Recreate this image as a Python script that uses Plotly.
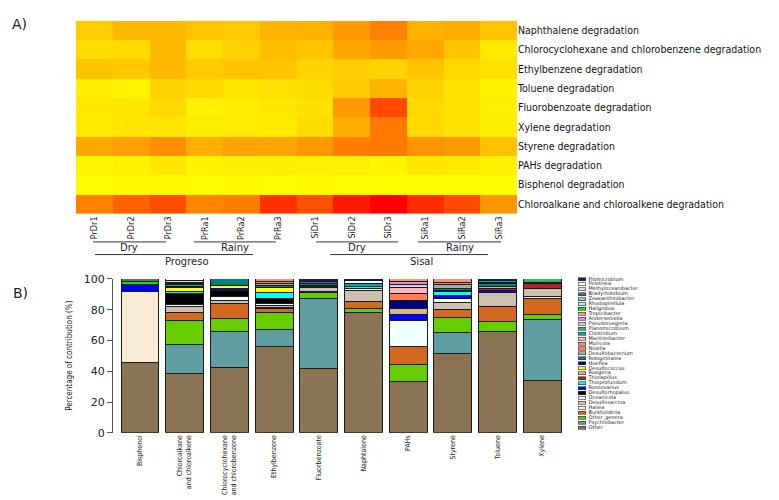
import plotly.graph_objects as go

W, H = 779, 500
def PX(p): return p / W
def PY(p): return 1 - p / H

# ---------------- Heatmap data (A) ----------------
samples = ["PrDr1", "PrDr2", "PrDr3", "PrRa1", "PrRa2", "PrRa3",
           "SiDr1", "SiDr2", "SiDr3", "SiRa1", "SiRa2", "SiRa3"]
pathways = ["Naphthalene degradation",
            "Chlorocyclohexane and chlorobenzene degradation",
            "Ethylbenzene degradation",
            "Toluene degradation",
            "Fluorobenzoate degradation",
            "Xylene degradation",
            "Styrene degradation",
            "PAHs degradation",
            "Bisphenol degradation",
            "Chloroalkane and chloroalkene degradation"]
# relative intensity (0 = yellow, 255 = red)
naphthalene   = [50, 70, 70, 60, 55, 75, 77, 100, 127, 77, 83, 60]
chlorocyclo   = [35, 37, 70, 33, 47, 67, 59, 90, 100, 87, 59, 22]
ethylbenzene  = [60, 56, 70, 52, 60, 60, 45, 50, 44, 60, 39, 30]
toluene       = [17, 10, 45, 37, 27, 31, 35, 53, 75, 45, 31, 12]
fluorobenz    = [23, 26, 39, 14, 19, 24, 31, 102, 181, 39, 29, 15]
xylene        = [20, 25, 25, 18, 19, 21, 35, 82, 135, 38, 28, 17]
styrene       = [87, 95, 114, 79, 92, 90, 103, 129, 133, 108, 101, 63]
pahs          = [10, 13, 23, 11, 17, 17, 16, 15, 10, 23, 20, 13]
bisphenol     = [3, 5, 5, 3, 5, 3, 5, 3, 0, 2, 2, 2]
chloroalkane  = [127, 159, 178, 122, 130, 205, 175, 229, 255, 212, 181, 105]
heat_rows = [naphthalene, chlorocyclo, ethylbenzene, toluene, fluorobenz,
             xylene, styrene, pahs, bisphenol, chloroalkane]

# ---------------- Stacked bars data (B) ----------------
compounds = ["Bisphenol", "Chloroalkane<br>and chloroalkene",
             "Chlorocyclohexane<br>and chlorobenzene", "Ethylbenzene",
             "Fluorbenzoate", "Naphtalene", "PAHs", "Styrene", "Toluene", "Xylene"]

# stack order: bottom -> top
genera = ["Other", "Psychrobacter", "Other_genera", "Burkholderia", "Haliea",
          "Desulfosarcina", "Oceanicola", "Desulforhopalus", "Roseovarius",
          "Thioprofundum", "Thiolapillus", "Ruegeria", "Desulfococcus", "Hoeflea",
          "Robiginitalea", "Desulfobacterium", "Nioella", "Muricola",
          "Maritimibacter", "Clostridium", "Planomicrobium", "Pseudoruegeria",
          "Anderseniella", "Tropicibacter", "Haliglobus", "Rhodopirellula",
          "Zeaxanthinibacter", "Bradyrhizobium", "Methyloceanibacter",
          "Pelolinea", "Filomicrobium"]
genus_colors = ["#8B7355", "#5F9EA0", "#66CD00", "#D2691E", "#FAEBD7",
                "#CDC0B0", "#F0FFFF", "#000000", "#0000FF",
                "#00FFFF", "#B22222", "#D2B48C", "#FFFF00", "#000080",
                "#008080", "#A9A9A9", "#FF7F50", "#E9967A",
                "#FFB6C1", "#00AAAA", "#3CB371", "#D3D3D3",
                "#EE82EE", "#F4A460", "#00EE00", "#DCDCDC",
                "#79CDCD", "#696969", "#DDDDDD",
                "#FFFFF0", "#191970"]

Other              = [45.7, 38.3, 42.7, 56.2, 42.1, 78.1, 33.1, 51.7, 66.0, 34.2]
Psychrobacter      = [0, 19.4, 23.0, 11.2, 45.5, 0, 0, 13.7, 0, 39.6]
Other_genera       = [0, 15.0, 8.4, 11.1, 3.3, 2.5, 11.6, 9.5, 6.2, 3.2]
Burkholderia       = [0, 5.3, 10.1, 2.3, 0, 4.8, 11.6, 5.3, 9.7, 10.1]
Haliea             = [45.9, 0, 0, 0.8, 1.2, 0, 0, 0, 0, 1.5]
Desulfosarcina     = [0, 4.2, 2.1, 1.2, 2.4, 6.8, 0, 4.2, 9.2, 4.9]
Oceanicola         = [0, 1.1, 2.1, 1.0, 0.6, 1.6, 16.9, 3.2, 0, 0]
Desulforhopalus    = [0, 7.0, 4.4, 3.8, 0, 0, 0, 0, 0, 0]
Roseovarius        = [4.8, 0, 1.1, 0, 0, 0, 3.6, 1.7, 1.3, 0]
Thioprofundum      = [0, 1.4, 0, 3.5, 0, 1.5, 0, 2.5, 0, 0]
Thiolapillus       = [0, 0, 0, 0, 0, 0, 0, 0, 1.7, 3.5]
Ruegeria           = [0, 0, 0, 0, 0, 0, 3.8, 1.0, 1.3, 0]
Desulfococcus      = [0, 2.9, 2.1, 3.6, 0, 0, 0, 0, 0, 0]
Hoeflea            = [0, 0, 0, 0, 0.9, 0, 5.7, 0, 0, 0]
Robiginitalea      = [0, 0.7, 4.0, 1.0, 1.2, 0, 0, 1.1, 1.7, 1.0]
Desulfobacterium   = [0, 0, 0, 1.4, 0, 0, 0, 2.5, 0.6, 0]
Nioella            = [0, 0, 0, 1.0, 0, 0, 4.2, 1.0, 0, 0]
Muricola           = [0, 0, 0, 1.9, 0, 0, 0, 2.6, 0, 0]
Maritimibacter     = [0, 0, 0, 0, 0, 0, 3.8, 0, 0, 0]
Clostridium        = [0, 1.3, 0, 0, 0, 2.0, 0, 0, 1.0, 0]
Planomicrobium     = [0, 0, 0, 0, 0, 0, 0, 0, 0, 2.0]
Pseudoruegeria     = [0, 0, 0, 0, 0, 0, 2.4, 0, 0, 0]
Anderseniella      = [0, 0, 0, 0, 0, 0, 1.6, 0, 0, 0]
Tropicibacter      = [0, 0, 0, 0, 0, 0, 1.7, 0, 0, 0]
Haliglobus         = [1.7, 0, 0, 0, 0, 0, 0, 0, 0, 0]
Rhodopirellula     = [0, 0, 0, 0, 0, 0, 0, 0, 0, 0]
Zeaxanthinibacter  = [0, 0.5, 0, 0, 0, 0, 0, 0, 0, 0]
Bradyrhizobium     = [1.9, 0.8, 0, 0, 1.2, 0, 0, 0, 0, 0]
Methyloceanibacter = [0, 1.3, 0, 0, 0, 0, 0, 0, 0, 0]
Pelolinea          = [0, 0.8, 0, 0, 0, 1.7, 0, 0, 0, 0]
Filomicrobium      = [0, 0, 0, 0, 1.6, 1.0, 0, 0, 1.3, 0]

genus_values = [Other, Psychrobacter, Other_genera, Burkholderia, Haliea,
                Desulfosarcina, Oceanicola, Desulforhopalus, Roseovarius,
                Thioprofundum, Thiolapillus, Ruegeria, Desulfococcus, Hoeflea,
                Robiginitalea, Desulfobacterium, Nioella, Muricola,
                Maritimibacter, Clostridium, Planomicrobium, Pseudoruegeria,
                Anderseniella, Tropicibacter, Haliglobus, Rhodopirellula,
                Zeaxanthinibacter, Bradyrhizobium, Methyloceanibacter,
                Pelolinea, Filomicrobium]

COND = "DejaVu Sans Condensed, Liberation Sans Narrow, DejaVu Sans"
WIDE = "DejaVu Sans, Verdana, sans-serif"

fig = go.Figure()

# Heatmap
fig.add_trace(go.Heatmap(
    z=heat_rows, x=samples, y=pathways,
    zmin=0, zmax=255,
    colorscale=[[0, "#FFFF00"], [1, "#FF0000"]],
    showscale=False, xaxis="x", yaxis="y", hoverinfo="skip"))

# Stacked bars
for name, vals, col in zip(genera, genus_values, genus_colors):
    fig.add_trace(go.Bar(
        x=compounds, y=[v if v else None for v in vals], name=name,
        marker=dict(color=col, line=dict(color="#1a1a1a", width=1)),
        width=0.85, showlegend=False, xaxis="x2", yaxis="y2", hoverinfo="skip"))

# Custom compact legend (swatches + labels)
idx = list(range(len(genera)))
fig.add_trace(go.Bar(
    y=idx, x=[1] * len(genera), orientation="h", width=0.62,
    marker=dict(color=genus_colors, line=dict(color="#333333", width=0.6)),
    showlegend=False, xaxis="x3", yaxis="y3", hoverinfo="skip"))
fig.add_trace(go.Scatter(
    y=idx, x=[1.4] * len(genera), mode="text", text=genera,
    textposition="middle right",
    textfont=dict(family=WIDE, size=5, color="#222222"),
    showlegend=False, xaxis="x3", yaxis="y3", hoverinfo="skip"))

shapes = []
def hline(x0, x1, y):
    shapes.append(dict(type="line", xref="paper", yref="paper",
                       x0=PX(x0), x1=PX(x1), y0=PY(y), y1=PY(y),
                       line=dict(color="#333333", width=1)))
for a, b in [(85, 158), (186, 268), (308, 390), (410, 493)]:
    hline(a, b, 234)
for a, b in [(87, 245), (322, 480)]:
    hline(a, b, 247)

annotations = []
def label(text, x, y, size, family=WIDE, angle=0, xanchor="center"):
    annotations.append(dict(text=text, x=PX(x), y=PY(y), xref="paper", yref="paper",
                            showarrow=False, textangle=angle, xanchor=xanchor,
                            yanchor="middle", font=dict(family=family, size=size, color="#222222")))
label("A)", 2, 10, 14, xanchor="left")
label("B)", 3, 286, 14, xanchor="left")
for t, x in [("Dry", 121), ("Rainy", 227), ("Dry", 349), ("Rainy", 452)]:
    label(t, x, 240, 10)
label("Progreso", 179, 254, 10)
label("Sisal", 413, 254, 10)
label("Percentage of contribution (%)", 62, 351, 8, family=COND, angle=-90)

fig.update_layout(
    width=W, height=H, margin=dict(l=0, r=0, t=0, b=0),
    paper_bgcolor="white", plot_bgcolor="white",
    barmode="stack", showlegend=False,
    shapes=shapes, annotations=annotations,
    xaxis=dict(domain=[PX(68), PX(509)], anchor="y", showgrid=False, zeroline=False,
               tickangle=-90, ticks="", showline=False,
               tickfont=dict(family=COND, size=9, color="#222222")),
    yaxis=dict(domain=[PY(205), PY(7)], anchor="x", side="right", autorange="reversed",
               showgrid=False, zeroline=False, ticks="", showline=False,
               tickfont=dict(family=COND, size=10.5, color="#111111")),
    xaxis2=dict(domain=[PX(105), PX(560)], anchor="y2", range=[-0.604, 9.58],
                showgrid=False, zeroline=False, ticks="", showline=False,
                tickangle=-90, tickfont=dict(family=COND, size=7, color="#222222")),
    yaxis2=dict(domain=[PY(430), PY(272)], anchor="x2", range=[0, 100],
                tickvals=[0, 20, 40, 60, 80, 100], ticks="outside", ticklen=5,
                tickcolor="#555555", showline=True, linecolor="#555555", linewidth=1,
                showgrid=False, zeroline=False,
                tickfont=dict(family=WIDE, size=11, color="#222222")),
    xaxis3=dict(domain=[PX(570), PX(700)], anchor="y3", range=[0, 17.33], visible=False),
    yaxis3=dict(domain=[PY(427.2), PY(269.8)], anchor="x3", range=[-0.5, 30.5], visible=False),
)

fig.write_html("out.html")
